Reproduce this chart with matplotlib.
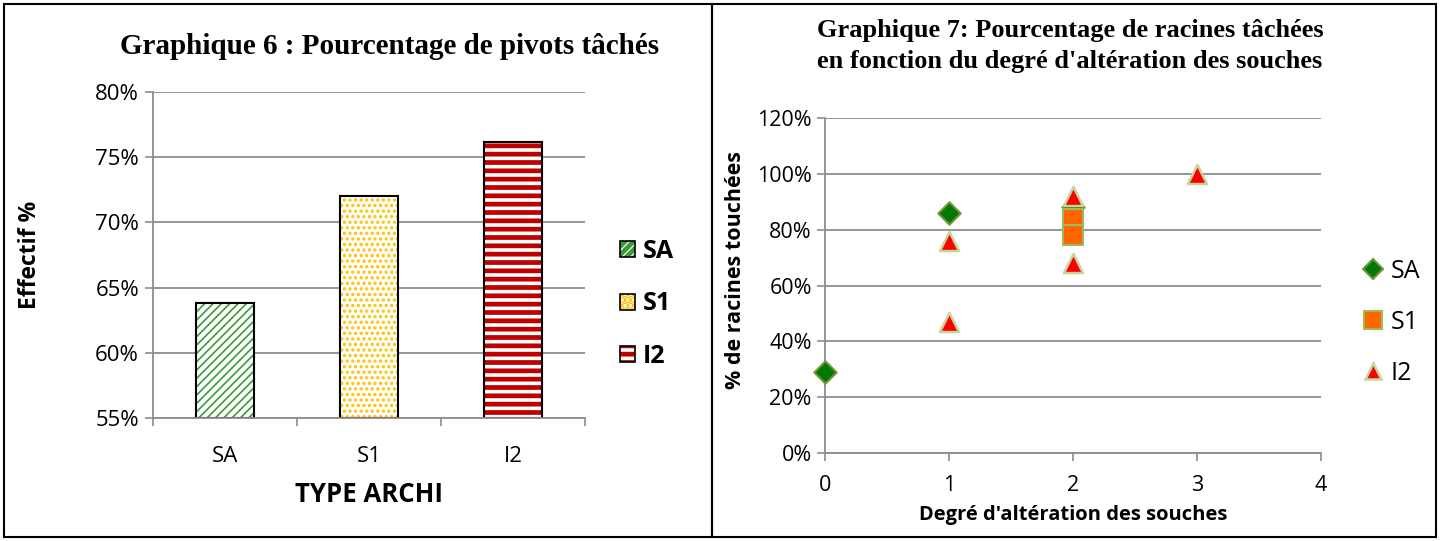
import matplotlib.pyplot as plt
from matplotlib.patches import Rectangle
from matplotlib.lines import Line2D
from matplotlib.ticker import PercentFormatter

# Graphique 6 data
types = ['SA', 'S1', 'I2']
pivots = [63.8, 72.0, 76.2]

# Graphique 7 data (degre d'alteration, % racines touchees)
sa_x = [0, 1, 2]
sa_y = [29, 86, 88]
s1_x = [2, 2]
s1_y = [84, 78]
i2_x = [1, 1, 2, 2, 3]
i2_y = [76, 47, 92, 68, 100]

tick_font = 'Open Sans'
title_font = 'Liberation Serif'
grid_col = '#8c8c8c'

fig = plt.figure(figsize=(14.4, 5.41), dpi=100)

# panel borders
fig.patches.append(Rectangle((4 / 1440, 4 / 541), 708 / 1440, 533 / 541, transform=fig.transFigure,
                             fill=False, edgecolor='black', linewidth=1.5))
fig.patches.append(Rectangle((712 / 1440, 4 / 541), 724 / 1440, 533 / 541, transform=fig.transFigure,
                             fill=False, edgecolor='black', linewidth=1.5))


def style_axes(ax, size):
    for s in ['top', 'right']:
        ax.spines[s].set_visible(False)
    for s in ['left', 'bottom']:
        ax.spines[s].set_color(grid_col)
        ax.spines[s].set_linewidth(1.3)
    ax.grid(axis='y', color=grid_col, linewidth=1.3)
    ax.set_axisbelow(True)
    ax.tick_params(colors=grid_col, labelcolor='black', labelsize=size, width=1.2, length=6)
    for lab in ax.get_xticklabels() + ax.get_yticklabels():
        lab.set_fontfamily(tick_font)


# ---- Graphique 6 ----
ax1 = fig.add_axes([153 / 1440, 1 - 418 / 541, 432 / 1440, 326 / 541])
fills = [('////', '#3a9a3a', 1.2), ('...', '#ffc000', 1.6), ('--', '#c00000', 3.4)]
handles = []
for i, (t, v) in enumerate(zip(types, pivots)):
    hatch, col, hlw = fills[i]
    plt.rcParams['hatch.linewidth'] = hlw
    ax1.bar(i, v - 55, bottom=55, width=0.4, color='white', edgecolor=col, hatch=hatch, linewidth=0)
    ax1.bar(i, v - 55, bottom=55, width=0.4, fill=False, edgecolor='black', linewidth=1.5)
    handles.append(Rectangle((0, 0), 1, 1, facecolor='white', edgecolor=col, hatch=hatch, linewidth=0))
ax1.set_xlim(-0.5, 2.5)
ax1.set_ylim(55, 80)
ax1.set_yticks([55, 60, 65, 70, 75, 80])
ax1.yaxis.set_major_formatter(PercentFormatter(decimals=0))
ax1.set_xticks(range(3))
ax1.set_xticklabels(types)
ax1.set_xticks([-0.5, 0.5, 1.5, 2.5], minor=True)
style_axes(ax1, 16)
ax1.tick_params(axis='y', pad=4)
ax1.tick_params(axis='x', which='major', length=0, pad=20)
ax1.tick_params(axis='x', which='minor', colors=grid_col, width=1.2, length=6)
ax1.set_xlabel('TYPE ARCHI', fontsize=18.5, fontweight='bold', fontfamily=tick_font, va='center')
ax1.xaxis.set_label_coords(0.5, -0.235)
ax1.set_ylabel('Effectif %', fontsize=16.5, fontweight='bold', fontfamily=tick_font, va='center')
ax1.yaxis.set_label_coords(-0.285, 0.5)
fig.text(390 / 1440, 1 - 46 / 541, 'Graphique 6 : Pourcentage de pivots tâchés', ha='center', va='center',
         fontsize=21, fontweight='bold', fontfamily=title_font)

# legend for graphique 6 with black outline boxes
leg_handles = []
for h in handles:
    leg_handles.append((h, Rectangle((0, 0), 1, 1, fill=False, edgecolor='black', linewidth=1.2)))
leg1 = ax1.legend(leg_handles, types, loc='center left', bbox_to_anchor=(1.03, 0.35), frameon=False,
                  prop={'family': tick_font, 'weight': 'bold', 'size': 18}, handlelength=0.6,
                  handleheight=0.6, handletextpad=0.3, labelspacing=1.1)

# ---- Graphique 7 ----
ax2 = fig.add_axes([825 / 1440, 1 - 453 / 541, 496 / 1440, 335 / 541])
ax2.scatter(sa_x, sa_y, marker='D', s=130, color='#007a00', edgecolors='#77933c', linewidths=1.5, zorder=3,
            clip_on=False)
ax2.scatter(s1_x, s1_y, marker='s', s=200, color='#ff6600', edgecolors='#9bbb59', linewidths=1.5, zorder=3,
            clip_on=False)
ax2.scatter(i2_x, i2_y, marker='^', s=190, color='#ff0000', edgecolors='#c4d79b', linewidths=1.8, zorder=3,
            clip_on=False)
ax2.set_xlim(0, 4)
ax2.set_ylim(0, 120)
ax2.set_xticks(range(5))
ax2.set_yticks(range(0, 121, 20))
ax2.yaxis.set_major_formatter(PercentFormatter(decimals=0))
style_axes(ax2, 15.5)
ax2.tick_params(axis='x', pad=10)
ax2.set_xlabel("Degré d'altération des souches", fontsize=14.5, fontweight='bold', fontfamily=tick_font,
               va='center')
ax2.xaxis.set_label_coords(0.5, -0.185)
ax2.set_ylabel('% de racines touchées', fontsize=15.5, fontweight='bold', fontfamily=tick_font, va='center')
ax2.yaxis.set_label_coords(-0.181, 0.546)
fig.text(1070 / 1440, 1 - 46 / 541, "Graphique 7: Pourcentage de racines tâchées\nen fonction du degré d'altération des souches",
         ha='center', va='center', fontsize=19, fontweight='bold', fontfamily=title_font, linespacing=1.45)

leg2_handles = [
    Line2D([], [], linestyle='none', marker='D', markersize=10, markerfacecolor='#007a00',
           markeredgecolor='#77933c', markeredgewidth=1.5),
    Line2D([], [], linestyle='none', marker='s', markersize=13, markerfacecolor='#ff6600',
           markeredgecolor='#9bbb59', markeredgewidth=1.5),
    Line2D([], [], linestyle='none', marker='^', markersize=12, markerfacecolor='#ff0000',
           markeredgecolor='#c4d79b', markeredgewidth=1.8),
]
ax2.legend(leg2_handles, ['SA', 'S1', 'I2'], loc='center left', bbox_to_anchor=(1.04, 0.39), frameon=False,
           prop={'family': tick_font, 'size': 18}, handlelength=0.8, handletextpad=0.3, labelspacing=1.05)

fig.savefig('out.png', dpi=100)
